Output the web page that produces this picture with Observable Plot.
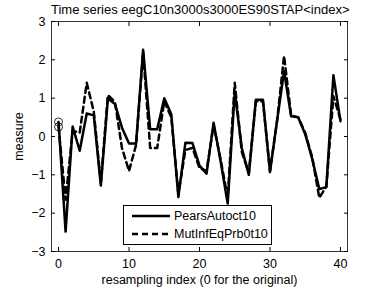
<!DOCTYPE html>
<html><head><meta charset="utf-8">
<script src="https://cdn.jsdelivr.net/npm/d3@7"></script>
<script src="https://cdn.jsdelivr.net/npm/@observablehq/plot@0.6"></script>
<style>
body{margin:0;background:#fff;font-family:"Liberation Sans",Arial,sans-serif;}
#wrap{position:relative;width:382px;height:288px;}
#title{position:absolute;left:51px;width:296px;top:2px;height:15px;line-height:15px;font-size:13px;text-align:center;white-space:nowrap;color:#000;}
#legend{position:absolute;border:1px solid #000;background:#fff;font-size:12.5px;}
#legend div{display:flex;align-items:center;height:18px;}
</style></head>
<body><div id="wrap"></div>
<script>
const title = "Time series eegC10n3000s3000ES90STAP<index>";
const xLabel = "resampling index (0 for the original)";
const yLabel = "measure";
const seriesNames = ["PearsAutoct10", "MutInfEqPrb0t10"];
const xTicks = [0, 10, 20, 30, 40];
const yTicks = [-3, -2, -1, 0, 1, 2, 3];
const index = d3.range(0, 41);
const pears = [0.38, -2.48, 0.26, -0.37, 0.6, 0.55, -1.28, 0.99, 0.85, 0.23,
  -0.18, -0.18, 2.26, 0.19, 0.19, 1.0, 0.58, -1.58, -0.16, -0.17,
  -0.76, -0.97, 0.36, -0.65, -1.75, 1.15, -0.3, -1.0, 0.96, 0.96,
  -0.93, 0.4, 1.7, 0.53, 0.5, 0.06, -0.59, -1.37, -1.32, 1.6, 0.4];
const mutinf = [0.25, -1.65, 0.15, 0.1, 1.4, 0.65, -1.2, 1.08, 0.9, -0.3,
  -0.9, -0.22, 2.2, -0.3, -0.3, 0.92, 0.5, -1.5, -0.35, -0.3,
  -0.82, -0.9, 0.3, -0.6, -1.6, 1.4, -0.4, -0.95, 0.92, 0.92,
  -0.9, 0.4, 2.1, 0.55, 0.5, 0.1, -0.55, -1.6, -1.3, 1.05, 0.45];

const dPears = index.map((x, i) => ({x, y: pears[i]}));
const dMut = index.map((x, i) => ({x, y: mutinf[i]}));

const chart = Plot.plot({
  width: 382, height: 288,
  marginLeft: 51, marginRight: 35, marginTop: 21, marginBottom: 37,
  style: {fontFamily: '"Liberation Sans", Arial, sans-serif', fontSize: "12.5px", background: "#fff", color: "#000"},
  x: {domain: [-1, 41]},
  y: {domain: [-3, 3]},
  marks: [
    Plot.frame({stroke: "#000", strokeWidth: 0.8}),
    Plot.axisX(xTicks, {anchor: "bottom", tickSize: 0, tickPadding: 8, label: xLabel, labelAnchor: "center", labelArrow: "none", labelOffset: 32, fontSize: 12.5}),
    Plot.axisX(xTicks, {anchor: "bottom", tickSize: -4, tickFormat: () => "", label: null}),
    Plot.axisX(xTicks, {anchor: "top", tickSize: -4, tickFormat: () => "", label: null}),
    Plot.axisY(yTicks, {anchor: "left", tickSize: 0, tickPadding: 6, tickFormat: d => d < 0 ? "\u2212" + Math.abs(d) : String(d), label: yLabel, labelAnchor: "center", labelArrow: "none", labelOffset: 37, fontSize: 12.5}),
    Plot.axisY(yTicks, {anchor: "left", tickSize: -4, tickFormat: () => "", label: null}),
    Plot.axisY(yTicks, {anchor: "right", tickSize: -4, tickFormat: () => "", label: null}),
    Plot.line(dMut, {x: "x", y: "y", stroke: "#000", strokeWidth: 2.5, strokeDasharray: "6,4"}),
    Plot.line(dPears, {x: "x", y: "y", stroke: "#000", strokeWidth: 2.5}),
    Plot.dot([dPears[0], dMut[0]], {x: "x", y: "y", r: 4, stroke: "#000", strokeWidth: 0.8, fill: "none"})
  ]
});
const wrap = document.getElementById("wrap");
wrap.appendChild(chart);

const t = document.createElement("div");
t.id = "title";
t.textContent = title;
wrap.appendChild(t);

const leg = document.createElement("div");
leg.id = "legend";
leg.style.left = "123px"; leg.style.top = "205px"; leg.style.width = "149px"; leg.style.height = "40px";
leg.style.padding = "1px 0";
leg.style.boxSizing = "border-box";
[["", seriesNames[0]], ["6,4", seriesNames[1]]].forEach(([dash, name]) => {
  const row = document.createElement("div");
  row.innerHTML = `<svg width="48" height="18" style="flex:none"><line x1="8" x2="46" y1="9" y2="9" stroke="#000" stroke-width="2.5" ${dash ? `stroke-dasharray="${dash}"` : ""}/></svg><span style="margin-left:2px">${name}</span>`;
  leg.appendChild(row);
});
wrap.appendChild(leg);
</script></body></html>
